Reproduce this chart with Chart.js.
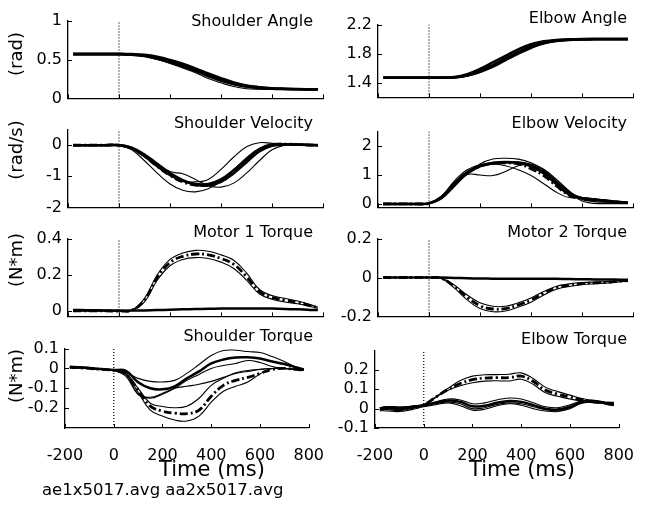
<!DOCTYPE html>
<html>
<head>
<meta charset="utf-8">
<script src="https://cdn.jsdelivr.net/npm/chart.js@4.4.1/dist/chart.umd.min.js"></script>
<style>
body{margin:0;background:#fff;}
#fig{position:relative;width:645px;height:511px;overflow:hidden;font-family:'DejaVu Sans',sans-serif;color:#000;}
#fig canvas{position:absolute;}
.lbl{position:absolute;white-space:nowrap;line-height:1;}
</style>
</head>
<body>
<div id="fig"></div>
<script>
// time base of every trace (ms)
var timeMs = [-180,-150,-100,-50,0,50,100,150,200,250,300,350,400,450,500,550,600,650,700,750,780];
var xTickValues = [-200,0,200,400,600,800];
var cueTime = 0;

// Shoulder Angle (rad)
var shAngle1 = [0.57,0.57,0.57,0.57,0.57,0.565,0.55,0.52,0.48,0.43,0.37,0.305,0.245,0.195,0.16,0.14,0.128,0.122,0.118,0.116,0.115];
var shAngle2 = [0.575,0.575,0.575,0.575,0.575,0.57,0.56,0.535,0.495,0.445,0.385,0.32,0.26,0.205,0.165,0.145,0.132,0.125,0.12,0.118,0.117];
var shAngle3 = [0.565,0.565,0.565,0.565,0.565,0.56,0.545,0.51,0.465,0.41,0.35,0.285,0.225,0.18,0.148,0.132,0.124,0.12,0.117,0.115,0.114];
var shAngle4 = [0.57,0.57,0.57,0.57,0.57,0.562,0.54,0.5,0.45,0.39,0.33,0.255,0.2,0.152,0.125,0.118,0.116,0.115,0.115,0.114,0.114];
var shAngleTicks = [0,0.5,1];

// Elbow Angle (rad)
var elAngle1 = [1.475,1.475,1.475,1.475,1.475,1.475,1.48,1.52,1.59,1.68,1.77,1.86,1.93,1.97,1.99,1.998,2.003,2.005,2.005,2.005,2.005];
var elAngle2 = [1.47,1.47,1.47,1.47,1.47,1.47,1.475,1.505,1.565,1.645,1.735,1.825,1.905,1.955,1.985,1.995,2.0,2.0,2.0,2.0,2.0];
var elAngle3 = [1.465,1.465,1.465,1.465,1.465,1.465,1.468,1.49,1.54,1.61,1.7,1.79,1.87,1.935,1.97,1.985,1.992,1.996,1.998,1.998,1.998];
var elAngle4 = [1.47,1.47,1.47,1.47,1.47,1.47,1.472,1.5,1.555,1.63,1.72,1.81,1.89,1.945,1.975,1.99,1.995,1.998,2.0,2.0,2.0];
var elAngleTicks = [1.4,1.6,1.8,2.0,2.2];
var elAngleLabels = [1.4,1.8,2.2];

// Shoulder Velocity (rad/s)
var shVel1 = [0,0,0,0,0,-0.1,-0.35,-0.65,-0.95,-1.15,-1.25,-1.25,-1.1,-0.8,-0.45,-0.15,0.0,0.03,0.02,0.0,0.0];
var shVel2 = [0,0,0,0,0,-0.08,-0.3,-0.6,-0.9,-1.12,-1.27,-1.3,-1.18,-0.9,-0.55,-0.2,-0.02,0.02,0.02,0.01,0.0];
var shVel3 = [0,0,0,0,0,-0.15,-0.5,-0.9,-1.25,-1.45,-1.5,-1.4,-1.15,-0.8,-0.4,-0.1,0.05,0.05,0.02,0.0,0.0];
var shVel4 = [0,0,0,0,0,-0.08,-0.3,-0.6,-0.85,-0.92,-1.1,-1.3,-1.35,-1.22,-0.9,-0.5,-0.15,0.0,0.02,0.0,0.0];
var shVel5 = [0,0,0,0,0,-0.1,-0.38,-0.7,-0.98,-1.15,-1.18,-1.1,-0.78,-0.38,-0.05,0.08,0.06,0.03,0.01,0.0,0.0];
var shVelMean = [0,0,0,0,0,-0.1,-0.35,-0.68,-0.97,-1.18,-1.28,-1.27,-1.12,-0.82,-0.47,-0.15,0.0,0.03,0.02,0.0,0.0];
var shVelTicks = [-2,-1,0];

// Elbow Velocity (rad/s)
var elVel1 = [0,0,0,0,0.02,0.25,0.72,1.1,1.32,1.42,1.45,1.42,1.3,1.05,0.68,0.32,0.2,0.15,0.11,0.06,0.04];
var elVel2 = [0,0,0,0,0.02,0.22,0.66,1.05,1.3,1.4,1.44,1.43,1.34,1.12,0.75,0.38,0.2,0.14,0.1,0.06,0.04];
var elVel3 = [0,0,0,0,0.02,0.18,0.6,1.05,1.38,1.55,1.58,1.55,1.42,1.18,0.82,0.42,0.1,0.02,0.01,0.01,0.01];
var elVel4 = [0,0,0,0,0.02,0.25,0.75,1.02,1.0,0.98,1.12,1.32,1.38,1.2,0.85,0.45,0.15,0.08,0.05,0.03,0.02];
var elVel5 = [0,0,0,0,0.02,0.28,0.8,1.18,1.35,1.38,1.32,1.18,0.98,0.7,0.4,0.22,0.22,0.18,0.12,0.07,0.05];
var elVelMean = [0,0,0,0,0.02,0.24,0.7,1.08,1.3,1.4,1.42,1.38,1.22,0.98,0.62,0.3,0.18,0.14,0.1,0.06,0.04];
var elVelTicks = [0,1,2];

// Motor 1 Torque (N*m)
var m1Upper = [0,0,0,0,0,0.005,0.07,0.2,0.285,0.32,0.335,0.33,0.31,0.28,0.21,0.12,0.085,0.07,0.055,0.035,0.02];
var m1Lower = [0,0,0,0,0,0.003,0.05,0.17,0.25,0.285,0.295,0.29,0.27,0.235,0.17,0.095,0.065,0.05,0.04,0.025,0.015];
var m1Mean = [0,0,0,0,0,0.004,0.06,0.185,0.268,0.302,0.315,0.31,0.29,0.258,0.19,0.108,0.075,0.06,0.048,0.03,0.018];
var m1Idle = [0.005,0.005,0.004,0.003,0.002,0.002,0.003,0.005,0.007,0.009,0.011,0.012,0.013,0.014,0.014,0.014,0.013,0.011,0.009,0.006,0.005];
var m1Ticks = [0,0.2,0.4];

// Motor 2 Torque (N*m)
var m2Upper = [0,0,0,0,0,-0.004,-0.04,-0.09,-0.13,-0.148,-0.148,-0.13,-0.105,-0.072,-0.045,-0.033,-0.026,-0.023,-0.021,-0.016,-0.013];
var m2Lower = [0,0,0,0,0,-0.006,-0.055,-0.115,-0.16,-0.176,-0.172,-0.152,-0.127,-0.09,-0.06,-0.046,-0.037,-0.032,-0.028,-0.022,-0.018];
var m2Mean = [0,0,0,0,0,-0.005,-0.047,-0.102,-0.145,-0.162,-0.16,-0.141,-0.116,-0.081,-0.052,-0.04,-0.032,-0.028,-0.025,-0.019,-0.016];
var m2Idle = [0,0,0,0,0,0,-0.002,-0.004,-0.005,-0.006,-0.006,-0.006,-0.006,-0.006,-0.007,-0.008,-0.009,-0.01,-0.01,-0.011,-0.012];
var m2Ticks = [-0.2,0,0.2];

// Shoulder Torque (N*m)
var shTq1 = [0.005,0.004,0.0,-0.004,-0.008,-0.02,-0.05,-0.065,-0.068,-0.06,-0.025,0.02,0.065,0.09,0.092,0.085,0.08,0.06,0.035,0.005,-0.005];
var shTq2 = [0.008,0.006,0.002,-0.003,-0.008,-0.012,-0.07,-0.1,-0.105,-0.09,-0.05,-0.015,0.025,0.045,0.055,0.056,0.05,0.035,0.022,0.005,-0.005];
var shTq3 = [0.005,0.004,0.0,-0.004,-0.01,-0.03,-0.13,-0.145,-0.125,-0.1,-0.09,-0.08,-0.065,-0.045,-0.025,-0.015,-0.005,0.0,0.0,-0.005,-0.01];
var shTq4 = [0.006,0.005,0.001,-0.004,-0.01,-0.04,-0.13,-0.15,-0.13,-0.1,-0.06,-0.03,0.0,0.015,0.025,0.04,0.03,0.01,0.0,-0.005,-0.01];
var shTqLow = [0.005,0.004,0.0,-0.005,-0.01,-0.03,-0.12,-0.21,-0.24,-0.26,-0.265,-0.24,-0.17,-0.115,-0.09,-0.068,-0.028,0.0,0.0,-0.005,-0.008];
var shTqHigh = [0.005,0.004,0.0,-0.005,-0.01,-0.025,-0.1,-0.175,-0.192,-0.198,-0.19,-0.15,-0.085,-0.05,-0.022,-0.01,-0.004,0.0,0.0,-0.005,-0.008];
var shTqMean = [0.005,0.004,0.0,-0.005,-0.01,-0.028,-0.11,-0.19,-0.215,-0.225,-0.228,-0.21,-0.14,-0.085,-0.06,-0.045,-0.025,-0.005,0.0,-0.005,-0.008];
var shTqTicks = [-0.2,-0.1,0,0.1];

// Elbow Torque (N*m)
var elTqUpper = [0.005,0.01,0.005,0.012,0.022,0.062,0.105,0.145,0.168,0.175,0.176,0.178,0.185,0.155,0.11,0.088,0.07,0.052,0.04,0.033,0.03];
var elTqLower = [-0.005,0.0,-0.005,0.004,0.018,0.058,0.095,0.118,0.134,0.142,0.144,0.143,0.152,0.125,0.082,0.064,0.05,0.038,0.03,0.027,0.025];
var elTqMean = [0.0,0.005,0.0,0.008,0.02,0.06,0.1,0.13,0.15,0.158,0.16,0.16,0.168,0.14,0.095,0.075,0.06,0.045,0.035,0.03,0.028];
var elTq1 = [0.005,0.01,0.01,0.012,0.02,0.035,0.05,0.045,0.025,0.03,0.045,0.055,0.05,0.03,0.01,0.005,0.02,0.04,0.04,0.03,0.025];
var elTq2 = [0.0,0.005,0.0,0.008,0.018,0.03,0.042,0.035,0.012,0.015,0.03,0.04,0.035,0.018,0.0,-0.005,0.01,0.035,0.04,0.028,0.02];
var elTq3 = [-0.005,-0.005,-0.01,0.0,0.015,0.025,0.035,0.025,0.0,0.005,0.022,0.03,0.025,0.01,-0.005,-0.012,0.0,0.03,0.038,0.025,0.018];
var elTq4 = [-0.01,-0.012,-0.015,-0.005,0.01,0.02,0.03,0.015,-0.008,-0.003,0.015,0.025,0.018,0.0,-0.012,-0.015,0.005,0.028,0.035,0.022,0.015];
var elTqTicks = [-0.1,0,0.1,0.2];

var fileNames = "ae1x5017.avg aa2x5017.avg";

var FONT = "'DejaVu Sans', sans-serif";
var AXW = 52, PADT = 12, PADR = 22;
var LINE = {
  thick: {w: 2.5, dash: []},
  thin: {w: 1.1, dash: []},
  mean: {w: 2.8, dash: [8, 3, 2, 3]}
};

Chart.defaults.font.family = FONT;
Chart.defaults.color = "#000";

var fig = document.getElementById("fig");

function addText(txt, x, y, size, how){
  var d = document.createElement("div");
  d.className = "lbl";
  d.textContent = txt;
  d.style.left = x + "px";
  d.style.top = y + "px";
  d.style.fontSize = size + "px";
  if(how == "right") d.style.transform = "translate(-100%,-50%)";
  else if(how == "rot") d.style.transform = "translate(-50%,-50%) rotate(-90deg)";
  else if(how == "left") d.style.transform = "translate(0,-50%)";
  else d.style.transform = "translate(-50%,-50%)";
  fig.appendChild(d);
}

function fmt(v){
  return String(Math.round(v * 100) / 100);
}

// tick marks pointing into the plot, like the original figure
var innerTicks = {
  id: "innerTicks",
  afterDraw: function(chart){
    var ctx = chart.ctx, a = chart.chartArea;
    var sx = chart.scales.x, sy = chart.scales.y;
    ctx.save();
    ctx.strokeStyle = "#000";
    ctx.lineWidth = 1;
    ctx.beginPath();
    sx.ticks.forEach(function(t){
      var px = Math.round(sx.getPixelForValue(t.value)) + 0.5;
      ctx.moveTo(px, a.bottom);
      ctx.lineTo(px, a.bottom - 4);
    });
    sy.ticks.forEach(function(t){
      var py = Math.round(sy.getPixelForValue(t.value)) + 0.5;
      ctx.moveTo(a.left, py);
      ctx.lineTo(a.left + 4, py);
    });
    ctx.stroke();
    ctx.restore();
  }
};

function drawPanel(p){
  var L = p.area[0], T = p.area[1], R = p.area[2], B = p.area[3];
  var xh = p.bottomRow ? 44 : 14;
  var cv = document.createElement("canvas");
  cv.width = (R - L) + AXW + PADR;
  cv.height = (B - T) + PADT + xh;
  cv.style.left = (L - AXW) + "px";
  cv.style.top = (T - PADT) + "px";
  fig.appendChild(cv);

  var datasets = p.series.map(function(s){
    return {
      data: timeMs.map(function(t, i){ return {x: t, y: s[0][i]}; }),
      borderColor: "#000",
      borderWidth: LINE[s[1]].w,
      borderDash: LINE[s[1]].dash,
      tension: 0.4,
      pointRadius: 0,
      fill: false
    };
  });
  datasets.push({
    data: [{x: cueTime, y: p.yMin}, {x: cueTime, y: p.yMax}],
    borderColor: "#000", borderWidth: 1.2, borderDash: [1, 2], pointRadius: 0, tension: 0
  });

  var labels = p.labels || p.ticks;

  new Chart(cv, {
    type: "line",
    data: {datasets: datasets},
    plugins: [innerTicks],
    options: {
      responsive: false,
      animation: false,
      devicePixelRatio: 1,
      layout: {padding: {top: PADT, right: PADR, left: 0, bottom: 0}},
      plugins: {legend: {display: false}, tooltip: {enabled: false}},
      scales: {
        x: {
          type: "linear", min: -200, max: 800,
          grid: {display: false, drawTicks: false},
          border: {display: true, color: "#000", width: 1.3},
          ticks: {display: !!p.bottomRow, font: {size: 16}, padding: 18, maxRotation: 0, callback: fmt},
          afterBuildTicks: function(ax){ ax.ticks = xTickValues.map(function(v){ return {value: v}; }); },
          afterFit: function(ax){ ax.height = xh; }
        },
        y: {
          type: "linear", min: p.yMin, max: p.yMax,
          grid: {display: false, drawTicks: false},
          border: {display: true, color: "#000", width: 1.3},
          ticks: {
            font: {size: 16}, padding: 6,
            callback: function(v){
              for(var i = 0; i < labels.length; i++){
                if(Math.abs(labels[i] - v) < 1e-9) return fmt(v);
              }
              return "";
            }
          },
          afterBuildTicks: function(ax){ ax.ticks = p.ticks.map(function(v){ return {value: v}; }); },
          afterFit: function(ax){ ax.width = AXW; }
        }
      }
    }
  });
}

var panels = [
  {area: [68, 17, 323, 100], yMin: 0, yMax: 1, ticks: shAngleTicks,
   series: [[shAngle1, "thick"], [shAngle2, "thick"], [shAngle3, "thick"], [shAngle4, "thin"]]},
  {area: [378, 21, 633, 99], yMin: 1.2, yMax: 2.2, ticks: elAngleTicks, labels: elAngleLabels,
   series: [[elAngle1, "thick"], [elAngle2, "thick"], [elAngle3, "thin"], [elAngle4, "thick"]]},
  {area: [68, 126, 323, 209], yMin: -2, yMax: 0.5, ticks: shVelTicks,
   series: [[shVel1, "thick"], [shVel2, "thick"], [shVel3, "thin"], [shVel4, "thin"], [shVel5, "thin"], [shVelMean, "mean"]]},
  {area: [378, 128, 633, 209], yMin: -0.12, yMax: 2.5, ticks: elVelTicks,
   series: [[elVel1, "thick"], [elVel2, "thick"], [elVel3, "thin"], [elVel4, "thin"], [elVel5, "thin"], [elVelMean, "mean"]]},
  {area: [68, 235, 323, 318], yMin: -0.03, yMax: 0.4, ticks: m1Ticks,
   series: [[m1Upper, "thin"], [m1Lower, "thin"], [m1Mean, "mean"], [m1Idle, "thick"]]},
  {area: [378, 235, 633, 318], yMin: -0.2, yMax: 0.2, ticks: m2Ticks,
   series: [[m2Upper, "thin"], [m2Lower, "thin"], [m2Mean, "mean"], [m2Idle, "thick"]]},
  {area: [65, 345, 320, 428], yMin: -0.3, yMax: 0.1, ticks: shTqTicks, bottomRow: true,
   series: [[shTq1, "thin"], [shTq2, "thick"], [shTq3, "thin"], [shTq4, "thin"], [shTqLow, "thin"], [shTqHigh, "thin"], [shTqMean, "mean"]]},
  {area: [375, 347, 630, 428], yMin: -0.1, yMax: 0.3, ticks: elTqTicks, bottomRow: true,
   series: [[elTqUpper, "thin"], [elTqLower, "thin"], [elTqMean, "mean"], [elTq1, "thin"], [elTq2, "thick"], [elTq3, "thin"], [elTq4, "thin"]]}
];

panels.forEach(drawPanel);

// panel titles
addText("Shoulder Angle", 313, 21, 16, "right");
addText("Elbow Angle", 627, 18, 16, "right");
addText("Shoulder Velocity", 313, 123, 16, "right");
addText("Elbow Velocity", 627, 123, 16, "right");
addText("Motor 1 Torque", 313, 232, 16, "right");
addText("Motor 2 Torque", 627, 232, 16, "right");
addText("Shoulder Torque", 313, 336, 16, "right");
addText("Elbow Torque", 627, 339, 16, "right");

// units
addText("(rad)", 16, 54, 18, "rot");
addText("(rad/s)", 16, 150, 18, "rot");
addText("(N*m)", 16, 260, 18, "rot");
addText("(N*m)", 16, 376, 18, "rot");

addText("Time (ms)", 212, 469, 21, "center");
addText("Time (ms)", 522, 469, 21, "center");
addText(fileNames, 42, 490, 16.5, "left");
</script>
</body>
</html>
